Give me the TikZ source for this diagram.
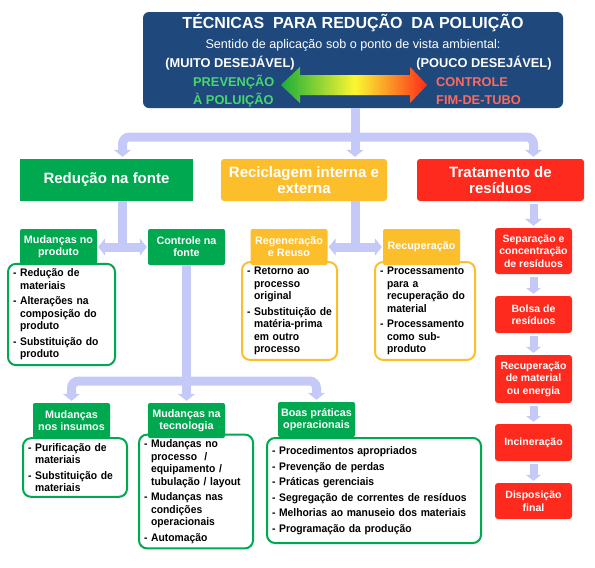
\documentclass[tikz,border=0pt]{standalone}
\usepackage{fontspec}
\setmainfont{Liberation Sans}
\newfontfamily\narrowfont[FakeStretch=0.94]{Liberation Sans}
\usetikzlibrary{arrows.meta,calc}

\definecolor{topblue}{RGB}{31,73,125}
\definecolor{fontegreen}{RGB}{0,168,80}
\definecolor{reciorange}{RGB}{253,190,44}
\definecolor{tratred}{RGB}{255,42,30}
\definecolor{linklav}{RGB}{197,201,247}
\definecolor{prevgreen}{RGB}{70,215,110}
\definecolor{ctrlred}{RGB}{255,105,95}
\definecolor{arrgreen}{RGB}{30,175,55}
\definecolor{arryellow}{RGB}{250,245,50}
\definecolor{arrred}{RGB}{255,40,25}

\newcommand{\ind}{\hphantom{- }}

\tikzset{
  conn/.style={draw=linklav, line width=9pt},
  tip/.style={-{Triangle[length=7pt,width=17pt]}, shorten >=2pt},
  dtip/.style={{Triangle[length=7pt,width=17pt]}-{Triangle[length=7pt,width=17pt]}, shorten >=1pt, shorten <=1pt},
  levelbox/.style={text=white, align=center, font=\bfseries\fontsize{15}{16}\selectfont,
    minimum height=42pt, inner sep=2pt},
  hdr/.style={text=white, align=center, font=\bfseries\fontsize{10.8}{12}\selectfont,
    minimum width=77pt, minimum height=36pt, inner sep=1pt, rounded corners=2pt},
  desc/.style={fill=white, line width=2pt, rounded corners=8pt, align=left,
    font=\narrowfont\bfseries\fontsize{11}{12.5}\selectfont, inner sep=5pt},
  redbox/.style={fill=tratred, text=white, align=center, rounded corners=3pt,
    font=\bfseries\fontsize{10.5}{12.5}\selectfont, minimum width=77pt, inner sep=1pt},
  toptext/.style={text=white, font=\bfseries\fontsize{12.8}{14}\selectfont},
}

\begin{document}
\begin{tikzpicture}[x=1pt,y=-1pt]
% Canvas
\useasboundingbox (0,0) rectangle (595,568);

% Top box
\node[fill=topblue, rounded corners=6pt, minimum width=420pt, minimum height=96pt] (tecnicas) at (353,60) {};
\node[text=white, font=\bfseries\fontsize{16}{18}\selectfont] (titulo) at (353,23) {TÉCNICAS\ \ PARA REDUÇÃO\ \ DA POLUIÇÃO};
\node[text=white, font=\fontsize{12.6}{14}\selectfont] (sentido) at (353,45) {Sentido de aplicação sob o ponto de vista ambiental:};
\node[toptext] (muito) at (230,63) {(MUITO DESEJÁVEL)};
\node[toptext] (pouco) at (484,63) {(POUCO DESEJÁVEL)};
\node[toptext, text=prevgreen, anchor=west, inner sep=0pt] (prev1) at (193,82) {PREVENÇÃO};
\node[toptext, text=prevgreen, anchor=west, inner sep=0pt] (prev2) at (193,100) {À POLUIÇÃO};
\node[toptext, text=ctrlred, anchor=west, inner sep=0pt] (fim1) at (436,82) {CONTROLE};
\node[toptext, text=ctrlred, anchor=west, inner sep=0pt] (fim2) at (436,100) {FIM-DE-TUBO};

% Gradient double arrow, filled strip by strip
\begin{scope}
  \clip (281,85) -- (300,67) -- (300,75) -- (410,75) -- (410,67) -- (427,85)
    -- (410,103) -- (410,95) -- (300,95) -- (300,103) -- cycle;
  \foreach \i in {0,...,73} {
    \pgfmathsetmacro{\xs}{281+2*\i}
    \ifnum\i<37
      \pgfmathtruncatemacro{\pc}{100*\i/36}
      \fill[arryellow!\pc!arrgreen] (\xs,60) rectangle ++(2.6,50);
    \else
      \pgfmathtruncatemacro{\pc}{100*(\i-37)/36}
      \fill[arrred!\pc!arryellow] (\xs,60) rectangle ++(2.6,50);
    \fi
  }
\end{scope}

% First level
\node[levelbox, fill=fontegreen, minimum width=173pt] (redfonte) at (106.5,180) {Redução na fonte};
\node[levelbox, fill=reciorange, minimum width=166pt, rounded corners=3pt] (recic) at (304,180) {Reciclagem interna e\\externa};
\node[levelbox, fill=tratred, minimum width=167pt, rounded corners=3pt] (trat) at (500.5,180) {Tratamento de\\resíduos};

% Second level headers and lists
\node[desc, draw=fontegreen, text width=97pt, minimum height=95pt] (mudprodlist) at (61.5,314.5)
  {- Redução de\\\ind materiais\\[3pt]- Alterações na\\\ind composição do\\\ind produto\\[3pt]- Substituição do\\\ind produto};
\node[hdr, fill=fontegreen] (mudprod) at (58.5,247) {Mudanças no\\produto};
\node[hdr, fill=fontegreen] (ctrlfonte) at (186.5,247) {Controle na\\fonte};

\node[desc, draw=reciorange, text width=85pt, minimum height=92pt] (regenlist) at (289.5,311)
  {- Retorno ao\\\ind processo\\\ind original\\[3pt]- Substituição de\\\ind matéria-prima\\\ind em outro\\\ind processo};
\node[desc, draw=reciorange, text width=90pt, minimum height=92pt] (recuplist) at (425,311)
  {- Processamento\\\ind para a\\\ind recuperação do\\\ind material\\[3pt]- Processamento\\\ind como sub-\\\ind produto};
\node[hdr, fill=reciorange] (regen) at (289,247) {Regeneração\\e Reuso};
\node[hdr, fill=reciorange] (recup) at (421.5,247) {Recuperação};

% Third level headers and lists
\node[desc, draw=fontegreen, text width=94pt, minimum height=55pt] (insumoslist) at (75,467.5)
  {- Purificação de\\\ind materiais\\[3pt]- Substituição de\\\ind materiais};
\node[desc, draw=fontegreen, text width=104pt, minimum height=103pt] (tecnolist) at (196,491.5)
  {- Mudanças no\\\ind processo\ \ /\\\ind equipamento /\\\ind tubulação / layout\\[3pt]- Mudanças nas\\\ind condições\\\ind operacionais\\[3pt]- Automação};
\node[desc, draw=fontegreen, text width=204pt, minimum height=105pt] (boaslist) at (374,490.5)
  {- Procedimentos apropriados\\[3pt]- Prevenção de perdas\\[3pt]- Práticas gerenciais\\[3pt]- Segregação de correntes de resíduos\\[3pt]- Melhorias ao manuseio dos materiais\\[3pt]- Programação da produção};
\node[hdr, fill=fontegreen, minimum height=35pt] (insumos) at (71.5,420.5) {Mudanças\\nos insumos};
\node[hdr, fill=fontegreen, minimum height=35pt] (tecno) at (186.5,420.5) {Mudanças na\\tecnologia};
\node[hdr, fill=fontegreen, minimum height=35pt] (boas) at (316.5,419.5) {Boas práticas\\operacionais};

% Waste treatment column
\foreach \nm/\yy/\bh/\txt in {r1/251/46/{Separação e\\concentração\\de resíduos},
    r2/314.5/37/{Bolsa de\\resíduos}, r3/379/48/{Recuperação\\de material\\ou energia},
    r4/442.5/37/{Incineração}, r5/501/36/{Disposição\\final}} {
  \node[redbox, minimum height=\bh pt] (\nm) at (533.5,\yy) {\txt};
}

% Connectors
\coordinate (hub1) at (355,137);
\coordinate (j1) at ($(mudprod.east)!0.5!(ctrlfonte.west)$);
\coordinate (j2) at ($(regen.east)!0.5!(recup.west)$);
\coordinate (hub2) at (186.5,381);

\draw[conn] (tecnicas.south -| hub1) -- (hub1);
\draw[conn, tip, rounded corners=7pt] (hub1) -| (j1 |- redfonte.north);
\draw[conn, tip] (hub1) -- (hub1 |- recic.north);
\draw[conn, tip, rounded corners=7pt] (hub1) -| (r1 |- trat.north);

\draw[conn] (redfonte.south -| j1) -- (j1);
\draw[conn, dtip] (mudprod.east) -- (ctrlfonte.west);
\draw[conn] (recic.south -| j2) -- (j2);
\draw[conn, dtip] (regen.east) -- (recup.west);

\draw[conn] (ctrlfonte.south) -- (hub2);
\draw[conn, tip, rounded corners=7pt] (hub2) -| (insumos.north);
\draw[conn, tip] (hub2) -- (tecno.north);
\draw[conn, tip, rounded corners=7pt] (hub2) -| (boas.north);

\draw[conn, line width=8pt, tip, shorten <=3pt] (trat.south -| r1) -- (r1.north);
\foreach \a/\b in {r1/r2,r2/r3,r3/r4,r4/r5}
  \draw[conn, line width=8pt, -{Triangle[length=6pt,width=15pt]}, shorten <=3pt, shorten >=2pt] (\a) -- (\b);
\end{tikzpicture}
\end{document}
